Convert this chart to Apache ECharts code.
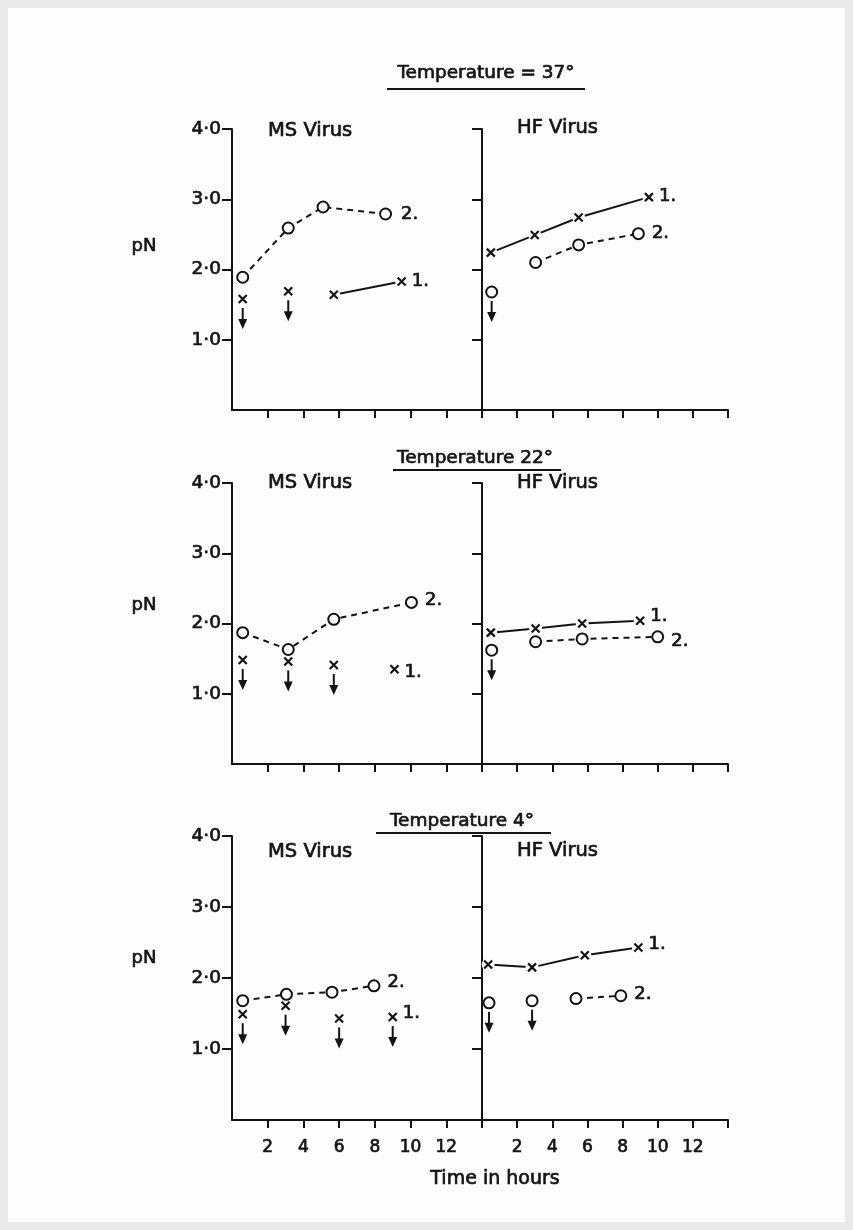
<!DOCTYPE html>
<html>
<head>
<meta charset="utf-8">
<script src="https://cdn.jsdelivr.net/npm/echarts@6/dist/echarts.min.js"></script>
<style>
  html, body { margin: 0; padding: 0; background: #e9e9e9; }
  #paper { position: absolute; left: 8px; top: 8px; width: 837px; height: 1214px; background: #fdfdfc; }
  #chart { position: absolute; left: 0; top: 0; width: 853px; height: 1230px; }
</style>
</head>
<body>
<div id="paper"></div>
<div id="chart"></div>
<script>
// Each point: [hours, pN, upperLimit]; upperLimit = 1 means "less than" (drawn with a down arrow)
const ms37Curve1 = [[0.6, 1.58, 1], [3.15, 1.69, 1], [5.7, 1.64, 0], [9.5, 1.83, 0]];
const ms37Curve2 = [[0.6, 1.89, 0], [3.15, 2.59, 0], [5.1, 2.89, 0], [8.6, 2.79, 0]];
const hf37Curve1 = [[0.5, 2.24, 0], [3.0, 2.49, 0], [5.5, 2.74, 0], [9.5, 3.03, 0]];
const hf37Curve2 = [[0.55, 1.68, 1], [3.05, 2.10, 0], [5.5, 2.35, 0], [8.9, 2.51, 0]];

const ms22Curve1 = [[0.6, 1.48, 1], [3.15, 1.46, 1], [5.7, 1.41, 1], [9.1, 1.35, 0]];
const ms22Curve2 = [[0.6, 1.87, 0], [3.15, 1.63, 0], [5.7, 2.06, 0], [10.05, 2.30, 0]];
const hf22Curve1 = [[0.5, 1.87, 0], [3.05, 1.93, 0], [5.7, 2.00, 0], [9.0, 2.04, 0]];
const hf22Curve2 = [[0.55, 1.62, 1], [3.05, 1.74, 0], [5.7, 1.78, 0], [10.0, 1.81, 0]];

const ms4Curve1 = [[0.6, 1.49, 1], [3.0, 1.61, 1], [6.0, 1.43, 1], [9.0, 1.45, 1]];
const ms4Curve2 = [[0.6, 1.68, 0], [3.05, 1.77, 0], [5.6, 1.80, 0], [7.95, 1.89, 0]];
const hf4Curve1 = [[0.35, 2.19, 0], [2.85, 2.15, 0], [5.85, 2.32, 0], [8.9, 2.43, 0]];
const hf4Curve2 = [[0.4, 1.65, 1], [2.85, 1.68, 1], [5.35, 1.71, 0], [7.9, 1.75, 0]];

const hourLabels = [2, 4, 6, 8, 10, 12];
const hourTickMarks = [2, 4, 6, 8, 10, 12, 14];
const pnLabels = [1, 2, 3, 4];
const temperatureTitles = ['Temperature = 37°', 'Temperature 22°', 'Temperature 4°'];
const virusNames = ['MS Virus', 'HF Virus'];
const curveNames = ['1.', '2.'];

const INK = '#141414';
const PAPER = '#fdfdfc';
const FONT = 'DejaVu Sans';
// a hairline outline thickens the lettering to a medium weight
const EDGE = 0.7;
const TEXT_EDGE = { textBorderColor: INK, textBorderWidth: EDGE };

// panel layout: rows = temperatures, columns = viruses
const rows = [
  { top: 129, height: 281, title: { x: 486, y: 73, line: [387, 585, 89] }, virusY: [131, 128], pnY: 246 },
  { top: 483, height: 281, title: { x: 475, y: 458, line: [393, 561, 470] }, virusY: [483, 483], pnY: 605 },
  { top: 836, height: 284, title: { x: 462, y: 821, line: [376, 551, 833] }, virusY: [852, 851], pnY: 958 }
];
const cols = [
  { left: 232, width: 250, virusX: 268 },
  { left: 482, width: 246, virusX: 517 }
];
const panelCurves = [
  [ms37Curve1, ms37Curve2], [hf37Curve1, hf37Curve2],
  [ms22Curve1, ms22Curve2], [hf22Curve1, hf22Curve2],
  [ms4Curve1, ms4Curve2], [hf4Curve1, hf4Curve2]
];
// where the "1." / "2." tags sit beside the last point of each curve
const tagOffsets = [
  [[0, 0], [2, 0]], [[0, -1], [0, 0]],
  [[0, 3], [0, -2]], [[0, -4], [0, 4]],
  [[0, -4], [0, -3]], [[0, -3], [0, -1]]
];

const grids = [], xAxes = [], yAxes = [], series = [];

rows.forEach((row, r) => {
  cols.forEach((col, c) => {
    const p = r * 2 + c;
    grids.push({ left: col.left, top: row.top, width: col.width, height: row.height, show: false });
    xAxes.push({
      type: 'value', gridIndex: p, min: 0, max: 14, interval: 2,
      axisLine: { show: true, onZero: false, lineStyle: { color: INK, width: 2 } },
      axisTick: { show: true, inside: false, length: 8, customValues: hourTickMarks, lineStyle: { color: INK, width: 2 } },
      axisLabel: Object.assign({ show: r === 2, customValues: hourLabels, margin: 19, fontSize: 17, fontFamily: FONT, color: INK }, TEXT_EDGE),
      splitLine: { show: false }
    });
    yAxes.push({
      type: 'value', gridIndex: p, min: 0, max: 4, interval: 1,
      axisLine: { show: true, onZero: false, lineStyle: { color: INK, width: 2 } },
      axisTick: { show: true, inside: false, length: 10, customValues: pnLabels, lineStyle: { color: INK, width: 2 } },
      axisLabel: Object.assign({
        show: c === 0, customValues: pnLabels, margin: 11, fontSize: 18.5, fontFamily: FONT, color: INK,
        formatter: v => v.toFixed(1).replace('.', '·')
      }, TEXT_EDGE),
      splitLine: { show: false }
    });

    panelCurves[p].forEach((pts, k) => {
      const joined = pts.filter(d => d[2] === 0).map(d => [d[0], d[1]]);
      const limits = pts.filter(d => d[2] === 1).map(d => [d[0], d[1]]);
      const marks = pts.map((d, i) => i === pts.length - 1
        ? { value: [d[0], d[1]], label: { show: true } }
        : { value: [d[0], d[1]] });
      const common = { xAxisIndex: p, yAxisIndex: p, silent: true, animation: false };

      // connecting line (solid for curve 1, dashed for curve 2)
      series.push(Object.assign({
        type: 'line', data: joined, showSymbol: false, z: 2,
        lineStyle: { color: INK, width: 2, type: k === 0 ? 'solid' : [6, 5] }
      }, common));

      if (k === 0) {
        // small clearing behind each cross so lines stop short of it
        series.push(Object.assign({
          type: 'scatter', data: pts.map(d => [d[0], d[1]]), symbol: 'circle', symbolSize: 13, z: 3,
          itemStyle: { color: PAPER, opacity: 1 }
        }, common));
      }

      series.push(Object.assign({
        type: 'scatter', data: marks, z: 4,
        symbol: k === 0 ? 'path://M0,0L10,10M10,0L0,10' : 'circle',
        symbolSize: k === 0 ? 8 : 11,
        itemStyle: k === 0
          ? { color: 'transparent', borderColor: INK, borderWidth: 2.2, opacity: 1 }
          : { color: PAPER, borderColor: INK, borderWidth: 2, opacity: 1 },
        label: Object.assign({
          show: false, position: 'right', distance: k === 0 ? 5 : 7,
          offset: tagOffsets[p][k], formatter: curveNames[k],
          fontSize: 18, fontFamily: FONT, color: INK
        }, TEXT_EDGE)
      }, common));

      // downward arrows under upper-limit values
      if (limits.length) {
        series.push(Object.assign({
          type: 'custom', data: limits, z: 4, clip: false,
          renderItem: (params, api) => {
            const pt = api.coord([api.value(0), api.value(1)]);
            const x = pt[0], y0 = pt[1] + 9, y1 = pt[1] + 30;
            return {
              type: 'group',
              children: [
                { type: 'line', shape: { x1: x, y1: y0, x2: x, y2: y1 - 6 }, style: { stroke: INK, lineWidth: 2 } },
                { type: 'polygon', shape: { points: [[x - 4.5, y1 - 10], [x + 4.5, y1 - 10], [x, y1]] }, style: { fill: INK } }
              ]
            };
          }
        }, common));
      }
    });
  });
});

function textItem(text, x, y, size, align) {
  return {
    type: 'text',
    style: { text: text, x: x, y: y, align: align, verticalAlign: 'middle',
      fill: INK, stroke: INK, lineWidth: EDGE, font: size + 'px "' + FONT + '"' }
  };
}

const graphics = [];
rows.forEach((row, r) => {
  graphics.push(textItem(temperatureTitles[r], row.title.x, row.title.y, 18.5, 'center'));
  graphics.push({
    type: 'line', shape: { x1: row.title.line[0], y1: row.title.line[2], x2: row.title.line[1], y2: row.title.line[2] },
    style: { stroke: INK, lineWidth: 2 }
  });
  cols.forEach((col, c) => {
    graphics.push(textItem(virusNames[c], col.virusX, row.virusY[c], 19.5, 'left'));
  });
  graphics.push(textItem('pN', 144, row.pnY, 18, 'center'));
});
graphics.push(textItem('Time in hours', 495, 1179, 19, 'center'));

const chart = echarts.init(document.getElementById('chart'), null, { renderer: 'canvas' });
chart.setOption({
  animation: false,
  backgroundColor: 'transparent',
  grid: grids,
  xAxis: xAxes,
  yAxis: yAxes,
  series: series,
  graphic: graphics
});
</script>
</body>
</html>
